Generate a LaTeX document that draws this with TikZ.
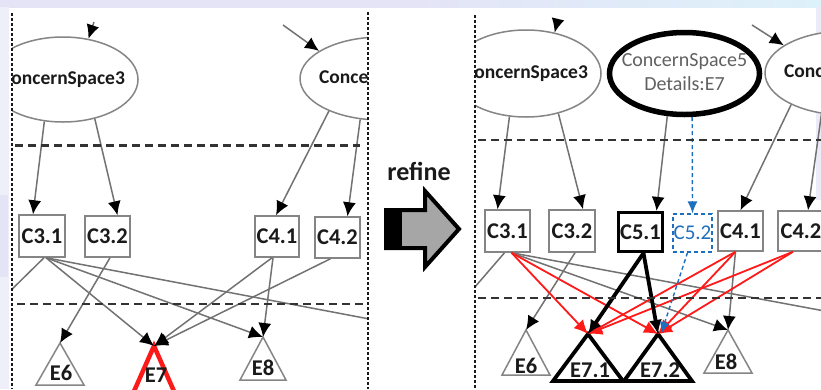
\documentclass[tikz,border=0pt]{standalone}
\usepackage{fontspec}
\setmainfont{Carlito}
\usetikzlibrary{arrows.meta,shapes.geometric}

\definecolor{lineg}{HTML}{727272}
\definecolor{boxg}{HTML}{858585}
\definecolor{txt}{HTML}{1A1A1A}
\definecolor{redc}{HTML}{FF1A1A}
\definecolor{bluec}{HTML}{1F6FBF}
\definecolor{arrowg}{HTML}{A6A6A6}
\definecolor{lavband}{HTML}{E4E4F6}
\definecolor{cyanband}{HTML}{DDF1FA}

\newcommand\boxfont{\fontsize{22.5}{26}\selectfont\bfseries}
\newcommand\csfont{\fontsize{19.5}{24}\selectfont\bfseries}
\newcommand\csfivefont{\fontsize{20}{24}\selectfont}
\newcommand\refinefont{\fontsize{26}{30}\selectfont\bfseries}

\begin{document}
\begin{tikzpicture}[x=1pt,y=-1pt,
  cbox/.style={draw=boxg, line width=1.5pt, fill=white, minimum width=45pt,
    minimum height=41pt, inner sep=0pt, font=\boxfont, text=txt},
  csell/.style={ellipse, draw=boxg, line width=1.5pt, fill=white, inner sep=0pt,
    font=\csfont, text=txt},
  tri/.style={draw=boxg, line width=1.5pt, line join=miter},
  ktri/.style={draw=black, line width=3.8pt, line join=miter},
  elbl/.style={font=\boxfont, text=txt, inner sep=0pt},
  gline/.style={draw=lineg, line width=1.5pt},
  gconn/.style={draw=lineg, line width=1.5pt, -{Latex[length=14pt,width=13pt,color=black]}},
  rconn/.style={draw=redc, line width=1.8pt, -{Latex[length=14pt,width=13pt]}},
  kconn/.style={draw=black, line width=3.8pt, -{Latex[length=14pt,width=13pt]}},
  bconn/.style={draw=bluec, line width=1.4pt, dash pattern=on 4pt off 3pt,
    -{Latex[length=12pt,width=10pt]}},
  vsep/.style={draw=black!90, line width=2.6pt, dash pattern=on 3pt off 2pt},
  hsep/.style={draw=black!80, line width=2.2pt, dash pattern=on 8pt off 5pt}]

\useasboundingbox (0,0) rectangle (821,389);

% slide backdrop
\fill[white] (0,0) rectangle (821,389);
\shade[left color=lavband, right color=cyanband, middle color=lavband] (0,0) rectangle (821,7);
\fill[lavband!60] (0,7) rectangle (9,389);
\fill[lavband] (0,195) rectangle (8,277);
\fill[lavband!70] (816,7) rectangle (821,200);

% ---------------- left panel ----------------
\begin{scope}
\clip (12,0) rectangle (368,389);
\coordinate (in3L) at (94,22);
\coordinate (in4L) at (283,25);
\coordinate (offL1) at (0,301);
\coordinate (offR1) at (380,321);

\node[csell, minimum width=150pt, minimum height=85pt] (cs3L) at (63,79.5)
  {\makebox[0pt]{ConcernSpace3}};
\node[csell, minimum width=162pt, minimum height=83pt] (cs4L) at (381,78.5)
  {\makebox[0pt]{ConcernSpace4}};
\draw[gconn] (in3L) -- (cs3L.58);
\draw[gconn] (in4L) -- (cs4L.156);

\node[cbox, minimum width=46pt, minimum height=42pt] (c31L) at (42,236) {C3.1};
\node[cbox] (c32L) at (107.5,236.5) {C3.2};
\node[cbox, minimum width=44pt] (c41L) at (277,236.5) {C4.1};
\node[cbox] (c42L) at (337.5,237.5) {C4.2};

\draw[gconn] (cs3L.-114) -- ([xshift=-9pt]c31L.north);
\draw[gconn] (cs3L.-51) -- ([xshift=10pt]c32L.north);
\draw[gconn] (cs4L.-148) -- ([xshift=-1pt]c41L.north);
\draw[gconn] (cs4L.-117) -- ([xshift=10pt]c42L.north);

\coordinate (e6L) at (60,343);
\coordinate (e7L) at (154,346);
\coordinate (e8L) at (263,337);
\draw[tri] (e6L) -- ++(-24,42) -- ++(48,0) -- cycle;
\draw[tri, draw=redc, line width=4.5pt] (e7L) -- ++(-23,52) -- ++(46,0) -- cycle;
\draw[tri] (e8L) -- ++(-23,43) -- ++(46,0) -- cycle;
\node[elbl] (e6Lt) at (61,373) {E6};
\node[elbl] (e7Lt) at (156,375) {E7};
\node[elbl] (e8Lt) at (263,368) {E8};

\draw[gline] ([xshift=2pt]c31L.south) -- (offL1);
\draw[gline] ([xshift=4pt]c31L.south) -- (offR1);
\draw[gconn] ([xshift=4pt]c31L.south) -- (e7L);
\draw[gconn] ([xshift=4pt]c31L.south) -- (e8L);
\draw[gconn] ([xshift=2.5pt]c32L.south) -- (e6L);
\draw[gconn] ([xshift=-5pt]c41L.south) -- (e7L);
\draw[gconn] ([xshift=-4pt]c41L.south) -- (e8L);
\draw[gconn] ([xshift=-7pt]c42L.south) -- (e7L);
\end{scope}

\draw[vsep] (12,13) -- (12,389);
\draw[vsep] (368,12) -- (368,389);
\draw[hsep] (15,145.5) -- (360,145.5);
\draw[hsep] (17,304) -- (363,304);

% ---------------- refine step ----------------
\node[font=\refinefont, text=txt, inner sep=0pt] (refine) at (419,171) {refine};
\draw[line width=4pt, fill=arrowg, line join=miter]
  (386,210) -- (425,210) -- (425,191) -- (459,229) -- (425,267) -- (425,248)
  -- (386,248) -- cycle;
\fill[black] (386,210) rectangle (402,248);

% ---------------- right panel ----------------
\begin{scope}
\clip (475,0) rectangle (821,389);
\coordinate (in3R) at (558,19);
\coordinate (in4R) at (752,25);
\coordinate (offL2) at (468,295);
\coordinate (offR2) at (830,312);

\node[csell, minimum width=150pt, minimum height=87pt] (cs3R) at (526,73.5)
  {\makebox[0pt]{ConcernSpace3}};
\node[csell, draw=black, line width=5.5pt, minimum width=150pt, minimum height=82pt,
  font=\csfivefont, text=black!62] (cs5R) at (684.5,73.5)
  {\makebox[0pt]{\begin{tabular}{@{}c@{}}ConcernSpace5\\Details:E7\end{tabular}}};
\node[csell, minimum width=162pt, minimum height=84pt] (cs4R) at (846,73)
  {\makebox[0pt]{ConcernSpace4}};
\draw[gconn] (in3R) -- (cs3R.55);
\draw[gconn] (in4R) -- (cs4R.156);

\node[cbox, minimum height=42pt] (c31R) at (507.5,231) {C3.1};
\node[cbox, minimum width=46pt, minimum height=42pt] (c32R) at (572,231) {C3.2};
\node[cbox, draw=black, line width=3.2pt, minimum width=44pt, minimum height=39pt]
  (c51R) at (640.5,232) {C5.1};
\node[cbox, draw=bluec, dash pattern=on 4pt off 3pt, line width=1.2pt,
  minimum width=39pt, minimum height=38pt, font=\fontsize{21}{25}\selectfont,
  text=bluec] (c52R) at (692.5,233) {C5.2};
\node[cbox, minimum height=40pt] (c41R) at (740.5,231) {C4.1};
\node[cbox, minimum width=46pt, minimum height=40pt] (c42R) at (801,231) {C4.2};

\draw[gconn] (cs3R.-111) -- ([xshift=-10pt]c31R.north);
\draw[gconn] (cs3R.-51) -- ([xshift=11pt]c32R.north);
\draw[gconn] (cs5R.-112) -- ([xshift=16pt]c51R.north);
\draw[bconn] (cs5R.-80) -- (c52R.north);
\draw[gconn] (cs4R.-150) -- (c41R.north);
\draw[gconn] (cs4R.-121) -- ([xshift=7pt]c42R.north);

\coordinate (e6R) at (526,330);
\coordinate (e71R) at (588,334);
\coordinate (e72R) at (658,334);
\coordinate (e8R) at (728,330);
\draw[tri] (e6R) -- ++(-24,45) -- ++(48,0) -- cycle;
\draw[ktri] (e71R) -- ++(-35,47) -- ++(70,0) -- cycle;
\draw[ktri] (e72R) -- ++(-34,47) -- ++(68,0) -- cycle;
\draw[tri] (e8R) -- ++(-24,43) -- ++(48,0) -- cycle;
\node[elbl] (e6Rt) at (526,366) {E6};
\node[elbl] (e71Rt) at (590,370) {E7.1};
\node[elbl] (e72Rt) at (660,370) {E7.2};
\node[elbl] (e8Rt) at (726,362) {E8};

% plain links
\draw[gline] ([xshift=-3pt]c31R.south) -- (offL2);
\draw[gline] ([xshift=4pt]c31R.south) -- (offR2);
\draw[gconn] ([xshift=4pt]c31R.south) -- (e8R);
\draw[gconn] ([xshift=3pt]c32R.south) -- (e6R);
\draw[gconn] ([xshift=-5pt]c41R.south) -- (e8R);
% refined links
\draw[rconn] ([xshift=4pt]c31R.south) -- (e71R);
\draw[rconn] ([xshift=4pt]c31R.south) -- (e72R);
\draw[rconn] ([xshift=-5pt]c41R.south) -- (e71R);
\draw[rconn] ([xshift=-5pt]c41R.south) -- (e72R);
\draw[rconn] ([xshift=-8pt]c42R.south) -- (e71R);
\draw[rconn] ([xshift=-8pt]c42R.south) -- (e72R);
\draw[kconn] ([xshift=3pt]c51R.south) -- (e71R);
\draw[kconn] ([xshift=3pt]c51R.south) -- (e72R);
\draw[bconn] ([xshift=-5pt]c52R.south) -- ([xshift=3pt]e72R);
\end{scope}

\draw[vsep] (475,15) -- (475,389);
\draw[hsep] (478,140) -- (821,140);
\draw[hsep] (478,298) -- (821,298);

\end{tikzpicture}
\end{document}
